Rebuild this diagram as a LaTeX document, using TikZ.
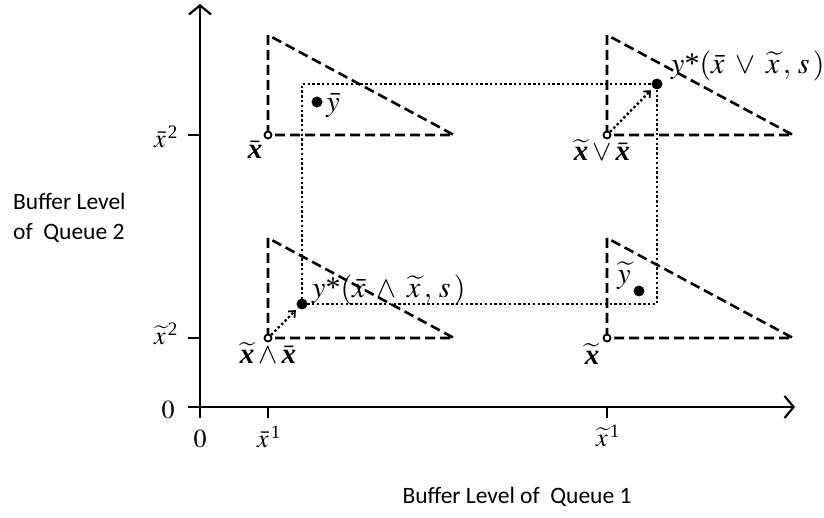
\documentclass[tikz,border=0pt]{standalone}
\usepackage{mathptmx}
\usepackage{fontspec}
\newfontfamily\calib{Carlito}
\newfontfamily\tms{Liberation Serif}
\usetikzlibrary{arrows.meta}
\newcommand{\bx}{\mbox{\tms\bfseries\itshape x}}
\newcommand{\mystar}{\mbox{\tms *}}
\newcommand{\sups}[1]{^{\,\mbox{\tms\fontsize{19}{20}\selectfont #1}}}
\begin{document}
\begin{tikzpicture}[x=1pt,y=-1pt,
  axis/.style={line width=2.5pt,-{Straight Barb[length=9pt,width=22pt,line width=2.2pt]}},
  tick/.style={line width=2.5pt},
  tri/.style={line width=2.6pt,dash pattern=on 10pt off 5pt,line join=miter},
  dotline/.style={line width=2.4pt,dash pattern=on 2.4pt off 2.4pt},
  dotarrow/.style={dotline,-{Straight Barb[length=5pt,width=9pt,line width=1.8pt]},shorten >=3pt},
  corner/.style={circle,draw,fill=white,line width=1.8pt,inner sep=0pt,minimum size=7pt},
  bigdot/.style={circle,fill,inner sep=0pt,minimum size=11pt},
  lab/.style={inner sep=0pt,font=\fontsize{26}{30}\selectfont},
  ylab/.style={inner sep=0pt,font=\fontsize{30}{32}\selectfont},
  blab/.style={inner sep=0pt,font=\fontsize{29}{32}\selectfont},
  sans/.style={inner sep=0pt,font=\calib\fontsize{23.5}{30}\selectfont}]
\useasboundingbox (0,0) rectangle (824,518);
% axes
\coordinate (ys) at (200,418);
\coordinate (ye) at (200,4);
\coordinate (xs) at (188,407);
\coordinate (xe) at (795,407);
\draw[axis] (ys) -- (ye);
\draw[axis] (xs) -- (xe);
% ticks
\coordinate (t1a) at (268,407); \coordinate (t1b) at (268,418);
\coordinate (t2a) at (607,407); \coordinate (t2b) at (607,418);
\coordinate (t3a) at (188,135); \coordinate (t3b) at (200,135);
\coordinate (t4a) at (188,338); \coordinate (t4b) at (200,338);
\draw[tick] (t1a) -- (t1b);
\draw[tick] (t2a) -- (t2b);
\draw[tick] (t3a) -- (t3b);
\draw[tick] (t4a) -- (t4b);
% triangles
\coordinate (cTL) at (268,135); \coordinate (tTL) at (268,35); \coordinate (rTL) at (454,135);
\coordinate (cTR) at (607,135); \coordinate (tTR) at (607,35); \coordinate (rTR) at (793,135);
\coordinate (cBL) at (268,338); \coordinate (tBL) at (268,238); \coordinate (rBL) at (454,338);
\coordinate (cBR) at (607,338); \coordinate (tBR) at (607,238); \coordinate (rBR) at (793,338);
\draw[tri] (cTL) -- (tTL) -- (rTL) -- cycle;
\draw[tri] (cTR) -- (tTR) -- (rTR) -- cycle;
\draw[tri] (cBL) -- (tBL) -- (rBL) -- cycle;
\draw[tri] (cBR) -- (tBR) -- (rBR) -- cycle;
% dots
\node[bigdot] (ysup) at (657,84) {};
\node[bigdot] (yinf) at (302,304) {};
\node[bigdot] (ybar) at (317,102) {};
\node[bigdot] (ytil) at (639,291) {};
% dotted rectangle
\draw[dotline] (yinf.center) |- (ysup.center) |- (yinf.center);
% corner circles
\node[corner] (kTL) at (cTL) {};
\node[corner] (kTR) at (cTR) {};
\node[corner] (kBL) at (cBL) {};
\node[corner] (kBR) at (cBR) {};
% dotted arrows
\draw[dotarrow] (kTR) -- (ysup);
\draw[dotarrow] (kBL) -- (yinf);
% labels
\node[blab] (lxb) at (255,150) {$\bar{\bx}$};
\node[blab] (lxor) at (602,150) {$\widetilde{\bx}\vee\bar{\bx}$};
\node[blab] (lxand) at (268,353) {$\widetilde{\bx}\wedge\bar{\bx}$};
\node[blab] (lxt) at (592,354) {$\widetilde{\bx}$};
\node[ylab] (lyb) at (333,106) {$\bar{y}$};
\node[ylab] (lyt) at (624,276) {$\widetilde{y}$};
\node[ylab,anchor=base west] (lysup) at (671,74) {$y\mystar(\bar{x}\;\vee\;\widetilde{x}\,,\,s\,)$};
\node[ylab,anchor=base west] (lyinf) at (312,298) {$y\mystar(\bar{x}\;\wedge\;\widetilde{x}\,,\,s\,)$};
\node[lab] (lx2b) at (166,137) {$\bar{x}\sups{2}$};
\node[lab] (lx2t) at (166,334) {$\widetilde{x}\sups{2}$};
\node[lab] (l0y) at (168,410) {$0$};
\node[lab] (l0x) at (200,439) {$0$};
\node[lab] (lx1b) at (269,437) {$\bar{x}\sups{1}$};
\node[lab] (lx1t) at (608,436) {$\widetilde{x}\sups{1}$};
\node[sans,anchor=base west,align=left] (lq2) at (13,240) {Buffer Level\\of\ \ Queue 2};
\node[sans,anchor=base] (lq1) at (517,503) {Buffer Level of\ \ Queue 1};
\end{tikzpicture}
\end{document}
